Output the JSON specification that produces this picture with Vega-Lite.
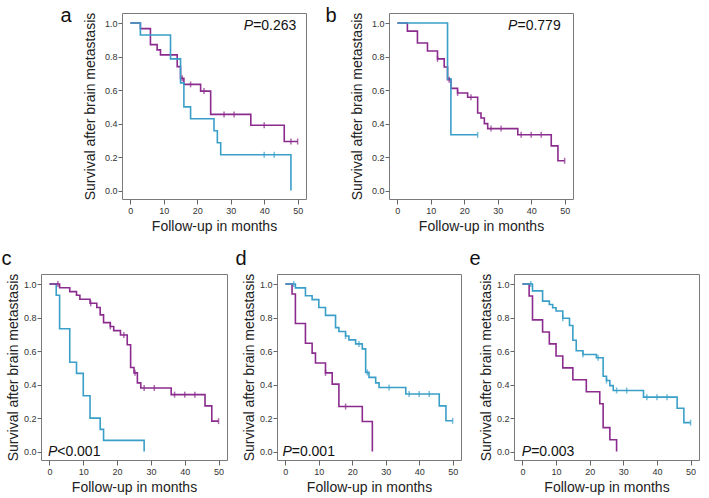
{
  "$schema": "https://vega.github.io/schema/vega-lite/v6.json",
  "background": "white",
  "padding": {"left": 0, "top": 5, "right": 0, "bottom": 0},
  "datasets": {
    "curves": [
      {"panel":"a","group":"p","t":0,"s":1},{"panel":"a","group":"p","t":3,"s":0.967},{"panel":"a","group":"p","t":6,"s":0.871},{"panel":"a","group":"p","t":8,"s":0.84},{"panel":"a","group":"p","t":9,"s":0.81},{"panel":"a","group":"p","t":14,"s":0.74},{"panel":"a","group":"p","t":15,"s":0.67},{"panel":"a","group":"p","t":16,"s":0.634},{"panel":"a","group":"p","t":21,"s":0.594},{"panel":"a","group":"p","t":24,"s":0.455},{"panel":"a","group":"p","t":36,"s":0.39},{"panel":"a","group":"p","t":46,"s":0.293},{"panel":"a","group":"p","t":50,"s":0.293},
      {"panel":"a","group":"b","t":0,"s":1},{"panel":"a","group":"b","t":3,"s":0.929},{"panel":"a","group":"b","t":12,"s":0.786},{"panel":"a","group":"b","t":15,"s":0.643},{"panel":"a","group":"b","t":16,"s":0.5},{"panel":"a","group":"b","t":18,"s":0.429},{"panel":"a","group":"b","t":25,"s":0.357},{"panel":"a","group":"b","t":26,"s":0.286},{"panel":"a","group":"b","t":27,"s":0.214},{"panel":"a","group":"b","t":48,"s":0},
      {"panel":"b","group":"p","t":0,"s":1},{"panel":"b","group":"p","t":3,"s":0.952},{"panel":"b","group":"p","t":6,"s":0.881},{"panel":"b","group":"p","t":9,"s":0.833},{"panel":"b","group":"p","t":12,"s":0.786},{"panel":"b","group":"p","t":14,"s":0.738},{"panel":"b","group":"p","t":15,"s":0.662},{"panel":"b","group":"p","t":16,"s":0.61},{"panel":"b","group":"p","t":18,"s":0.583},{"panel":"b","group":"p","t":21,"s":0.557},{"panel":"b","group":"p","t":24,"s":0.463},{"panel":"b","group":"p","t":25,"s":0.433},{"panel":"b","group":"p","t":26,"s":0.4},{"panel":"b","group":"p","t":27,"s":0.37},{"panel":"b","group":"p","t":36,"s":0.333},{"panel":"b","group":"p","t":46,"s":0.267},{"panel":"b","group":"p","t":48,"s":0.178},{"panel":"b","group":"p","t":50,"s":0.178},
      {"panel":"b","group":"b","t":0,"s":1},{"panel":"b","group":"b","t":15,"s":0.667},{"panel":"b","group":"b","t":16,"s":0.333},{"panel":"b","group":"b","t":24,"s":0.333},
      {"panel":"c","group":"b","t":0,"s":1},{"panel":"c","group":"b","t":2,"s":0.933},{"panel":"c","group":"b","t":3,"s":0.733},{"panel":"c","group":"b","t":6,"s":0.533},{"panel":"c","group":"b","t":8,"s":0.467},{"panel":"c","group":"b","t":10,"s":0.333},{"panel":"c","group":"b","t":12,"s":0.2},{"panel":"c","group":"b","t":15,"s":0.133},{"panel":"c","group":"b","t":16,"s":0.067},{"panel":"c","group":"b","t":28,"s":0},
      {"panel":"c","group":"p","t":0,"s":1},{"panel":"c","group":"p","t":3,"s":0.978},{"panel":"c","group":"p","t":6,"s":0.955},{"panel":"c","group":"p","t":8,"s":0.933},{"panel":"c","group":"p","t":9,"s":0.909},{"panel":"c","group":"p","t":12,"s":0.885},{"panel":"c","group":"p","t":14,"s":0.86},{"panel":"c","group":"p","t":15,"s":0.816},{"panel":"c","group":"p","t":16,"s":0.77},{"panel":"c","group":"p","t":18,"s":0.747},{"panel":"c","group":"p","t":19,"s":0.722},{"panel":"c","group":"p","t":21,"s":0.696},{"panel":"c","group":"p","t":23,"s":0.638},{"panel":"c","group":"p","t":24,"s":0.502},{"panel":"c","group":"p","t":25,"s":0.47},{"panel":"c","group":"p","t":26,"s":0.41},{"panel":"c","group":"p","t":27,"s":0.38},{"panel":"c","group":"p","t":36,"s":0.34},{"panel":"c","group":"p","t":46,"s":0.273},{"panel":"c","group":"p","t":48,"s":0.182},{"panel":"c","group":"p","t":50,"s":0.182},
      {"panel":"d","group":"p","t":0,"s":1},{"panel":"d","group":"p","t":2,"s":0.941},{"panel":"d","group":"p","t":3,"s":0.765},{"panel":"d","group":"p","t":6,"s":0.647},{"panel":"d","group":"p","t":8,"s":0.588},{"panel":"d","group":"p","t":9,"s":0.529},{"panel":"d","group":"p","t":12,"s":0.47},{"panel":"d","group":"p","t":14,"s":0.403},{"panel":"d","group":"p","t":16,"s":0.269},{"panel":"d","group":"p","t":23,"s":0.18},{"panel":"d","group":"p","t":26,"s":0},
      {"panel":"d","group":"b","t":0,"s":1},{"panel":"d","group":"b","t":3,"s":0.977},{"panel":"d","group":"b","t":6,"s":0.93},{"panel":"d","group":"b","t":8,"s":0.907},{"panel":"d","group":"b","t":10,"s":0.86},{"panel":"d","group":"b","t":12,"s":0.813},{"panel":"d","group":"b","t":15,"s":0.74},{"panel":"d","group":"b","t":16,"s":0.717},{"panel":"d","group":"b","t":18,"s":0.69},{"panel":"d","group":"b","t":19,"s":0.667},{"panel":"d","group":"b","t":21,"s":0.643},{"panel":"d","group":"b","t":23,"s":0.613},{"panel":"d","group":"b","t":24,"s":0.473},{"panel":"d","group":"b","t":25,"s":0.443},{"panel":"d","group":"b","t":27,"s":0.41},{"panel":"d","group":"b","t":28,"s":0.383},{"panel":"d","group":"b","t":36,"s":0.344},{"panel":"d","group":"b","t":46,"s":0.273},{"panel":"d","group":"b","t":48,"s":0.184},{"panel":"d","group":"b","t":50,"s":0.184},
      {"panel":"e","group":"p","t":0,"s":1},{"panel":"e","group":"p","t":2,"s":0.929},{"panel":"e","group":"p","t":3,"s":0.786},{"panel":"e","group":"p","t":6,"s":0.714},{"panel":"e","group":"p","t":8,"s":0.643},{"panel":"e","group":"p","t":10,"s":0.571},{"panel":"e","group":"p","t":12,"s":0.5},{"panel":"e","group":"p","t":15,"s":0.429},{"panel":"e","group":"p","t":19,"s":0.357},{"panel":"e","group":"p","t":23,"s":0.286},{"panel":"e","group":"p","t":24,"s":0.143},{"panel":"e","group":"p","t":26,"s":0.071},{"panel":"e","group":"p","t":28,"s":0},
      {"panel":"e","group":"b","t":0,"s":1},{"panel":"e","group":"b","t":3,"s":0.959},{"panel":"e","group":"b","t":6,"s":0.898},{"panel":"e","group":"b","t":8,"s":0.878},{"panel":"e","group":"b","t":9,"s":0.859},{"panel":"e","group":"b","t":10,"s":0.839},{"panel":"e","group":"b","t":12,"s":0.796},{"panel":"e","group":"b","t":14,"s":0.753},{"panel":"e","group":"b","t":15,"s":0.665},{"panel":"e","group":"b","t":16,"s":0.602},{"panel":"e","group":"b","t":18,"s":0.58},{"panel":"e","group":"b","t":22,"s":0.56},{"panel":"e","group":"b","t":24,"s":0.45},{"panel":"e","group":"b","t":25,"s":0.424},{"panel":"e","group":"b","t":26,"s":0.394},{"panel":"e","group":"b","t":27,"s":0.365},{"panel":"e","group":"b","t":36,"s":0.325},{"panel":"e","group":"b","t":46,"s":0.259},{"panel":"e","group":"b","t":48,"s":0.173},{"panel":"e","group":"b","t":50,"s":0.173}
    ],
    "censors": [
      {"panel":"a","group":"p","t":15.5,"s":0.67},{"panel":"a","group":"p","t":18,"s":0.634},{"panel":"a","group":"p","t":22,"s":0.594},{"panel":"a","group":"p","t":28,"s":0.455},{"panel":"a","group":"p","t":31,"s":0.455},{"panel":"a","group":"p","t":40,"s":0.39},{"panel":"a","group":"p","t":48,"s":0.293},{"panel":"a","group":"p","t":50,"s":0.293},
      {"panel":"a","group":"b","t":40,"s":0.214},{"panel":"a","group":"b","t":43,"s":0.214},
      {"panel":"b","group":"p","t":12,"s":0.786},{"panel":"b","group":"p","t":15.5,"s":0.662},{"panel":"b","group":"p","t":18,"s":0.583},{"panel":"b","group":"p","t":22,"s":0.557},{"panel":"b","group":"p","t":28,"s":0.37},{"panel":"b","group":"p","t":31,"s":0.37},{"panel":"b","group":"p","t":37,"s":0.333},{"panel":"b","group":"p","t":40,"s":0.333},{"panel":"b","group":"p","t":43,"s":0.333},{"panel":"b","group":"p","t":50,"s":0.178},
      {"panel":"b","group":"b","t":24,"s":0.333},
      {"panel":"c","group":"p","t":2.5,"s":1},{"panel":"c","group":"p","t":12.2,"s":0.885},{"panel":"c","group":"p","t":18,"s":0.747},{"panel":"c","group":"p","t":22,"s":0.696},{"panel":"c","group":"p","t":25.3,"s":0.47},{"panel":"c","group":"p","t":28,"s":0.38},{"panel":"c","group":"p","t":31,"s":0.38},{"panel":"c","group":"p","t":37,"s":0.34},{"panel":"c","group":"p","t":40,"s":0.34},{"panel":"c","group":"p","t":43,"s":0.34},{"panel":"c","group":"p","t":50,"s":0.182},
      {"panel":"d","group":"p","t":12,"s":0.47},{"panel":"d","group":"p","t":18,"s":0.269},
      {"panel":"d","group":"b","t":2.5,"s":1},{"panel":"d","group":"b","t":18,"s":0.69},{"panel":"d","group":"b","t":22,"s":0.643},{"panel":"d","group":"b","t":24.5,"s":0.473},{"panel":"d","group":"b","t":31,"s":0.383},{"panel":"d","group":"b","t":37,"s":0.344},{"panel":"d","group":"b","t":40,"s":0.344},{"panel":"d","group":"b","t":43,"s":0.344},{"panel":"d","group":"b","t":50,"s":0.184},
      {"panel":"e","group":"b","t":2.5,"s":1},{"panel":"e","group":"b","t":12,"s":0.796},{"panel":"e","group":"b","t":18,"s":0.58},{"panel":"e","group":"b","t":22.5,"s":0.56},{"panel":"e","group":"b","t":25,"s":0.424},{"panel":"e","group":"b","t":28,"s":0.365},{"panel":"e","group":"b","t":31,"s":0.365},{"panel":"e","group":"b","t":37,"s":0.325},{"panel":"e","group":"b","t":40,"s":0.325},{"panel":"e","group":"b","t":43,"s":0.325},{"panel":"e","group":"b","t":50,"s":0.173}
    ],
    "notes": [
      {"panel":"a","t":36.7,"s":0.98,"label":"=0.263"},
      {"panel":"b","t":35.9,"s":0.98,"label":"=0.779"},
      {"panel":"c","t":2.3,"s":0.0,"label":"<0.001"},
      {"panel":"d","t":1.9,"s":0.0,"label":"=0.001"},
      {"panel":"e","t":2.6,"s":0.0,"label":"=0.003"}
    ]
  },
  "config": {
    "view": {"stroke": "#7a7a7a", "strokeWidth": 1},
    "axis": {"grid": false, "domain": false, "tickColor": "#666", "labelFont": "Liberation Sans", "labelFontSize": 9, "labelColor": "#333", "titleFont": "Liberation Sans", "titleFontSize": 14, "titleFontWeight": "normal", "titleColor": "#222"},
    "axisX": {"tickSize": 5, "labelPadding": 2, "titlePadding": 4},
    "axisY": {"tickSize": 4, "labelPadding": 1, "titlePadding": 3},
    "title": {"font": "Liberation Sans", "fontSize": 20, "fontWeight": "normal", "anchor": "start", "color": "#111"},
    "text": {"font": "Liberation Sans", "fontSize": 14, "color": "#111", "baseline": "middle"}
  },
  "vconcat": [
    {
      "spacing": 17,
      "hconcat": [
        {"width": 1, "height": 1, "view": {"stroke": null}, "data": {"values": []}, "mark": {"type": "point", "opacity": 0}, "encoding": {}},
        {
          "width": 184, "height": 186,
          "title": {"text": "a", "dx": -23, "offset": -14},
          "encoding": {
            "x": {"field": "t", "type": "quantitative", "scale": {"domain": [-2.5, 52.5], "nice": false, "zero": false}, "axis": {"values": [0,10,20,30,40,50], "title": "Follow-up in months"}},
            "y": {"field": "s", "type": "quantitative", "scale": {"domain": [-0.05, 1.06], "nice": false, "zero": false}, "axis": {"values": [0,0.2,0.4,0.6,0.8,1], "format": ".1f", "title": "Survival after brain metastasis", "titlePadding": 7}}
          },
          "layer": [
            {"data": {"name": "curves"}, "transform": [{"filter": "datum.panel === 'a'"}], "mark": {"type": "line", "interpolate": "step-after", "strokeWidth": 1.6}, "encoding": {"color": {"field": "group", "type": "nominal", "scale": {"domain": ["p","b"], "range": ["#8a2b8d","#3a9fc8"]}, "legend": null}}},
            {"data": {"name": "censors"}, "transform": [{"filter": "datum.panel === 'a'"}], "mark": {"type": "tick", "orient": "vertical", "size": 6, "thickness": 1.5}, "encoding": {"color": {"field": "group", "type": "nominal", "legend": null}}},
            {"data": {"name": "notes"}, "transform": [{"filter": "datum.panel === 'a'"}], "mark": {"type": "text", "align": "right", "fontStyle": "italic"}, "encoding": {"text": {"value": "P"}}},
            {"data": {"name": "notes"}, "transform": [{"filter": "datum.panel === 'a'"}], "mark": {"type": "text", "align": "left"}, "encoding": {"text": {"field": "label"}}}
          ]
        },
        {
          "width": 184, "height": 186,
          "title": {"text": "b", "dx": -25, "offset": -14},
          "encoding": {
            "x": {"field": "t", "type": "quantitative", "scale": {"domain": [-2.5, 52.5], "nice": false, "zero": false}, "axis": {"values": [0,10,20,30,40,50], "title": "Follow-up in months"}},
            "y": {"field": "s", "type": "quantitative", "scale": {"domain": [-0.05, 1.06], "nice": false, "zero": false}, "axis": {"values": [0,0.2,0.4,0.6,0.8,1], "format": ".1f", "title": "Survival after brain metastasis", "titlePadding": 7}}
          },
          "layer": [
            {"data": {"name": "curves"}, "transform": [{"filter": "datum.panel === 'b'"}], "mark": {"type": "line", "interpolate": "step-after", "strokeWidth": 1.6}, "encoding": {"color": {"field": "group", "type": "nominal", "scale": {"domain": ["p","b"], "range": ["#8a2b8d","#3a9fc8"]}, "legend": null}}},
            {"data": {"name": "censors"}, "transform": [{"filter": "datum.panel === 'b'"}], "mark": {"type": "tick", "orient": "vertical", "size": 6, "thickness": 1.5}, "encoding": {"color": {"field": "group", "type": "nominal", "legend": null}}},
            {"data": {"name": "notes"}, "transform": [{"filter": "datum.panel === 'b'"}], "mark": {"type": "text", "align": "right", "fontStyle": "italic"}, "encoding": {"text": {"value": "P"}}},
            {"data": {"name": "notes"}, "transform": [{"filter": "datum.panel === 'b'"}], "mark": {"type": "text", "align": "left"}, "encoding": {"text": {"field": "label"}}}
          ]
        }
      ]
    },
    {
      "spacing": 6,
      "hconcat": [
        {
          "width": 186, "height": 186,
          "title": {"text": "c", "dx": -5, "offset": 4},
          "encoding": {
            "x": {"field": "t", "type": "quantitative", "scale": {"domain": [-2.5, 52.5], "nice": false, "zero": false}, "axis": {"values": [0,10,20,30,40,50], "title": "Follow-up in months"}},
            "y": {"field": "s", "type": "quantitative", "scale": {"domain": [-0.05, 1.06], "nice": false, "zero": false}, "axis": {"values": [0,0.2,0.4,0.6,0.8,1], "format": ".1f", "title": "Survival after brain metastasis"}}
          },
          "layer": [
            {"data": {"name": "curves"}, "transform": [{"filter": "datum.panel === 'c'"}], "mark": {"type": "line", "interpolate": "step-after", "strokeWidth": 1.6}, "encoding": {"color": {"field": "group", "type": "nominal", "scale": {"domain": ["p","b"], "range": ["#8a2b8d","#3a9fc8"]}, "legend": null}}},
            {"data": {"name": "censors"}, "transform": [{"filter": "datum.panel === 'c'"}], "mark": {"type": "tick", "orient": "vertical", "size": 6, "thickness": 1.5}, "encoding": {"color": {"field": "group", "type": "nominal", "legend": null}}},
            {"data": {"name": "notes"}, "transform": [{"filter": "datum.panel === 'c'"}], "mark": {"type": "text", "align": "right", "fontStyle": "italic"}, "encoding": {"text": {"value": "P"}}},
            {"data": {"name": "notes"}, "transform": [{"filter": "datum.panel === 'c'"}], "mark": {"type": "text", "align": "left"}, "encoding": {"text": {"field": "label"}}}
          ]
        },
        {
          "width": 184, "height": 186,
          "title": {"text": "d", "dx": -7, "offset": 4},
          "encoding": {
            "x": {"field": "t", "type": "quantitative", "scale": {"domain": [-2.5, 52.5], "nice": false, "zero": false}, "axis": {"values": [0,10,20,30,40,50], "title": "Follow-up in months"}},
            "y": {"field": "s", "type": "quantitative", "scale": {"domain": [-0.05, 1.06], "nice": false, "zero": false}, "axis": {"values": [0,0.2,0.4,0.6,0.8,1], "format": ".1f", "title": "Survival after brain metastasis"}}
          },
          "layer": [
            {"data": {"name": "curves"}, "transform": [{"filter": "datum.panel === 'd'"}], "mark": {"type": "line", "interpolate": "step-after", "strokeWidth": 1.6}, "encoding": {"color": {"field": "group", "type": "nominal", "scale": {"domain": ["p","b"], "range": ["#8a2b8d","#3a9fc8"]}, "legend": null}}},
            {"data": {"name": "censors"}, "transform": [{"filter": "datum.panel === 'd'"}], "mark": {"type": "tick", "orient": "vertical", "size": 6, "thickness": 1.5}, "encoding": {"color": {"field": "group", "type": "nominal", "legend": null}}},
            {"data": {"name": "notes"}, "transform": [{"filter": "datum.panel === 'd'"}], "mark": {"type": "text", "align": "right", "fontStyle": "italic"}, "encoding": {"text": {"value": "P"}}},
            {"data": {"name": "notes"}, "transform": [{"filter": "datum.panel === 'd'"}], "mark": {"type": "text", "align": "left"}, "encoding": {"text": {"field": "label"}}}
          ]
        },
        {
          "width": 185, "height": 186,
          "title": {"text": "e", "dx": -10, "offset": 4},
          "encoding": {
            "x": {"field": "t", "type": "quantitative", "scale": {"domain": [-2.5, 52.5], "nice": false, "zero": false}, "axis": {"values": [0,10,20,30,40,50], "title": "Follow-up in months"}},
            "y": {"field": "s", "type": "quantitative", "scale": {"domain": [-0.05, 1.06], "nice": false, "zero": false}, "axis": {"values": [0,0.2,0.4,0.6,0.8,1], "format": ".1f", "title": "Survival after brain metastasis"}}
          },
          "layer": [
            {"data": {"name": "curves"}, "transform": [{"filter": "datum.panel === 'e'"}], "mark": {"type": "line", "interpolate": "step-after", "strokeWidth": 1.6}, "encoding": {"color": {"field": "group", "type": "nominal", "scale": {"domain": ["p","b"], "range": ["#8a2b8d","#3a9fc8"]}, "legend": null}}},
            {"data": {"name": "censors"}, "transform": [{"filter": "datum.panel === 'e'"}], "mark": {"type": "tick", "orient": "vertical", "size": 6, "thickness": 1.5}, "encoding": {"color": {"field": "group", "type": "nominal", "legend": null}}},
            {"data": {"name": "notes"}, "transform": [{"filter": "datum.panel === 'e'"}], "mark": {"type": "text", "align": "right", "fontStyle": "italic"}, "encoding": {"text": {"value": "P"}}},
            {"data": {"name": "notes"}, "transform": [{"filter": "datum.panel === 'e'"}], "mark": {"type": "text", "align": "left"}, "encoding": {"text": {"field": "label"}}}
          ]
        }
      ]
    }
  ],
  "spacing": 14
}
